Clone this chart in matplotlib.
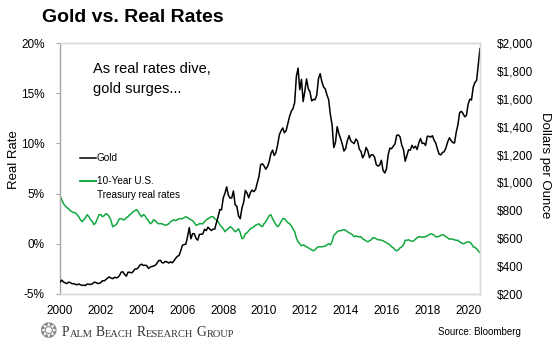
import matplotlib.pyplot as plt
import numpy as np

plt.rcParams['font.family'] = ['Liberation Sans', 'DejaVu Sans']

# monthly gold price, Jan 2000 - Aug 2020 (USD per ounce)
gold = [
    285, 300, 287, 280, 275, 285, 282, 274, 274, 270, 266, 272,   # 2000
    266, 262, 263, 261, 272, 270, 268, 273, 284, 283, 276, 276,   # 2001
    282, 296, 294, 303, 315, 322, 314, 310, 320, 316, 319, 333,   # 2002
    357, 359, 340, 328, 356, 356, 351, 360, 379, 379, 389, 407,   # 2003
    414, 405, 406, 404, 384, 392, 398, 400, 406, 420, 439, 442,   # 2004
    424, 424, 434, 429, 422, 431, 424, 437, 456, 470, 476, 510,   # 2005
    549, 555, 557, 610, 676, 596, 633, 632, 598, 586, 627, 629,   # 2006
    631, 664, 655, 679, 667, 655, 665, 665, 712, 754, 806, 803,   # 2007
    889, 922, 968, 909, 888, 889, 939, 839, 829, 760, 740, 816,   # 2008
    858, 943, 924, 890, 928, 945, 934, 949, 996, 1043, 1127, 1134,  # 2009
    1118, 1095, 1113, 1148, 1205, 1232, 1193, 1215, 1271, 1342, 1370, 1391,  # 2010
    1356, 1372, 1424, 1473, 1510, 1529, 1572, 1760, 1820, 1665, 1739, 1580,  # 2011
    1656, 1742, 1673, 1650, 1585, 1596, 1593, 1626, 1744, 1780, 1722, 1684,  # 2012
    1671, 1627, 1593, 1487, 1414, 1250, 1286, 1400, 1349, 1316, 1275, 1225,  # 2013
    1244, 1300, 1336, 1299, 1287, 1279, 1311, 1296, 1239, 1222, 1176, 1200,  # 2014
    1251, 1227, 1178, 1198, 1199, 1181, 1128, 1117, 1125, 1159, 1086, 1068,  # 2015
    1097, 1199, 1246, 1242, 1260, 1276, 1337, 1341, 1326, 1267, 1236, 1152,  # 2016
    1192, 1234, 1231, 1266, 1246, 1260, 1236, 1283, 1315, 1280, 1282, 1265,  # 2017
    1331, 1331, 1325, 1335, 1303, 1282, 1238, 1202, 1198, 1215, 1221, 1250,  # 2018
    1291, 1320, 1300, 1286, 1283, 1359, 1413, 1500, 1510, 1495, 1471, 1480,  # 2019
    1560, 1597, 1591, 1683, 1716, 1732, 1846, 1960,                        # 2020
]

# 10-year US Treasury real rate (%), same months
real_rate = [
    4.8, 4.4, 4.0, 3.8, 3.6, 3.5, 3.3, 3.2, 3.1, 3.1, 2.9, 2.7,   # 2000
    2.4, 2.2, 2.4, 2.6, 2.9, 2.7, 2.4, 2.2, 1.9, 2.1, 2.5, 2.9,   # 2001
    2.9, 2.7, 2.8, 3.0, 2.9, 2.7, 2.3, 1.7, 1.8, 1.9, 2.2, 2.5,   # 2002
    2.5, 2.4, 2.4, 2.6, 2.7, 2.9, 3.0, 3.2, 3.3, 3.4, 3.2, 2.9,   # 2003
    2.7, 2.9, 2.8, 2.5, 2.3, 2.0, 2.1, 2.4, 2.3, 2.1, 2.0, 2.0,   # 2004
    2.0, 1.9, 1.85, 1.9, 2.0, 2.2, 2.3, 2.4, 2.3, 2.4, 2.5, 2.5,  # 2005
    2.5, 2.6, 2.7, 2.6, 2.5, 2.4, 2.3, 2.1, 1.85, 1.9, 2.0, 2.0,  # 2006
    2.0, 2.2, 2.4, 2.5, 2.6, 2.7, 2.7, 2.5, 2.4, 2.2, 1.9, 1.7,   # 2007
    1.5, 1.2, 1.4, 1.5, 1.7, 1.6, 1.4, 1.2, 1.3, 1.5, 1.1, 0.5,   # 2008
    0.6, 1.0, 1.1, 1.3, 1.5, 1.6, 1.7, 1.85, 1.9, 2.0, 1.8, 1.7,  # 2009
    2.0, 2.2, 2.5, 2.8, 2.9, 2.5, 2.2, 1.9, 1.7, 1.9, 2.2, 2.5,   # 2010
    2.5, 2.3, 2.1, 2.0, 1.8, 1.5, 1.2, 0.6, 0.2, 0.0, -0.2, -0.1,  # 2011
    -0.2, -0.3, -0.4, -0.5, -0.6, -0.7, -0.6, -0.4, -0.3, -0.3, -0.3, -0.25,  # 2012
    -0.25, -0.1, 0.0, -0.1, 0.2, 0.85, 1.0, 1.2, 1.3, 1.3, 1.35, 1.4,  # 2013
    1.35, 1.2, 1.1, 1.0, 0.9, 0.7, 0.8, 0.7, 0.7, 0.7, 0.5, 0.4,  # 2014
    0.3, 0.2, 0.3, 0.4, 0.6, 0.6, 0.5, 0.4, 0.4, 0.35, 0.3, 0.2,  # 2015
    0.1, 0.0, -0.1, -0.3, -0.4, -0.6, -0.7, -0.6, -0.4, -0.3, -0.1, 0.35,  # 2016
    0.35, 0.4, 0.3, 0.25, 0.3, 0.45, 0.6, 0.7, 0.7, 0.65, 0.7, 0.7,  # 2017
    0.8, 0.9, 1.0, 0.95, 0.85, 0.7, 0.7, 0.75, 0.85, 0.9, 0.85, 0.7,  # 2018
    0.6, 0.45, 0.5, 0.45, 0.4, 0.35, 0.35, 0.2, 0.1, 0.0, 0.05, 0.15,  # 2019
    0.2, 0.15, 0.0, -0.3, -0.35, -0.5, -0.7, -0.9,                    # 2020
]

start_year = 2000
year_ticks = list(range(2000, 2021, 2))
pct_ticks = [-5, 0, 5, 10, 15, 20]
usd_ticks = [200, 400, 600, 800, 1000, 1200, 1400, 1600, 1800, 2000]

months = start_year + np.arange(len(gold)) / 12.0

GREEN = '#12a83e'
SPINE_LIGHT = '#d9d9d9'
SPINE_DARK = '#a6a6a6'

fig = plt.figure(figsize=(5.6, 3.61), dpi=100)
ax = fig.add_axes([60 / 560, 1 - 294 / 361, 420 / 560, 251 / 361])
ax2 = ax.twinx()

ax.plot(months, real_rate, color=GREEN, lw=1.1)
ax2.plot(months, gold, color='black', lw=1.1)

ax.set_xlim(start_year, months[-1])
ax.set_ylim(-5, 20)
ax2.set_ylim(200, 2000)

ax.set_xticks(year_ticks)
ax.set_xticklabels([str(y) for y in year_ticks])
ax.set_yticks(pct_ticks)
ax.set_yticklabels([f'{v}%' for v in pct_ticks])
ax2.set_yticks(usd_ticks)
ax2.set_yticklabels([f'${v:,}' for v in usd_ticks])

ax.tick_params(axis='x', length=0, pad=8, labelsize=8.5)
ax.tick_params(axis='y', length=3, width=0.8, color=SPINE_DARK, pad=8, labelsize=8.5)
ax2.tick_params(axis='y', length=0, pad=12, labelsize=8.5)

for a in (ax, ax2):
    for s in a.spines.values():
        s.set_color(SPINE_LIGHT)
        s.set_linewidth(1.0)
ax.spines['left'].set_color(SPINE_DARK)
ax2.spines['left'].set_visible(False)

ax.set_ylabel('Real Rate', fontsize=9.5, va='center', ha='center')
ax.yaxis.set_label_coords(-0.11, 0.534)
ax2.set_ylabel('Dollars per Ounce', fontsize=9.5, rotation=-90, va='center', ha='center')
ax2.yaxis.set_label_coords(1.155, 0.514)

# annotation
ax.text(0.079, 0.924, 'As real rates dive,\ngold surges...', transform=ax.transAxes,
        fontsize=10.5, va='top', ha='left', linespacing=1.5)

# legend keys
ax.plot([0.048, 0.086], [0.543, 0.543], color='black', lw=1.1, transform=ax.transAxes)
ax.text(0.088, 0.543, 'Gold', transform=ax.transAxes, fontsize=7.2, va='center', ha='left')
ax.plot([0.048, 0.086], [0.450, 0.450], color=GREEN, lw=1.4, transform=ax.transAxes)
ax.text(0.088, 0.472, '10-Year U.S.\nTreasury real rates', transform=ax.transAxes,
        fontsize=7.2, va='top', ha='left', linespacing=1.5)

# title
fig.text(42 / 560, 1 - 18 / 361, 'Gold vs. Real Rates', fontsize=14, fontweight='bold',
         va='center', ha='left')

# footer
fig.text(48 / 560, 1 - 332 / 361, '\u2742', fontsize=15, color='#8c8c8c',
         ha='center', va='center', family=['DejaVu Sans'])
pieces = [('P', 9.8, 0), ('ALM', 7.5, 0), ('B', 9.8, 2.6), ('EACH', 7.5, 0),
          ('R', 9.8, 2.6), ('ESEARCH', 7.5, 0), ('G', 9.8, 2.6), ('ROUP', 7.5, 0)]
prev = fig.text(62 / 560, 1 - 336 / 361, pieces[0][0], fontsize=pieces[0][1],
                family=['Liberation Serif'], color='#333333', ha='left', va='baseline')
for txt, size, gap in pieces[1:]:
    prev = ax.annotate(txt, xy=(1, 0), xycoords=prev, xytext=(gap, 0),
                       textcoords='offset points', fontsize=size,
                       family=['Liberation Serif'], color='#333333',
                       ha='left', va='bottom', annotation_clip=False)

fig.text(521 / 560, 1 - 332 / 361, 'Source: Bloomberg', fontsize=7, ha='right', va='center')

plt.savefig('out.png', dpi=100)
